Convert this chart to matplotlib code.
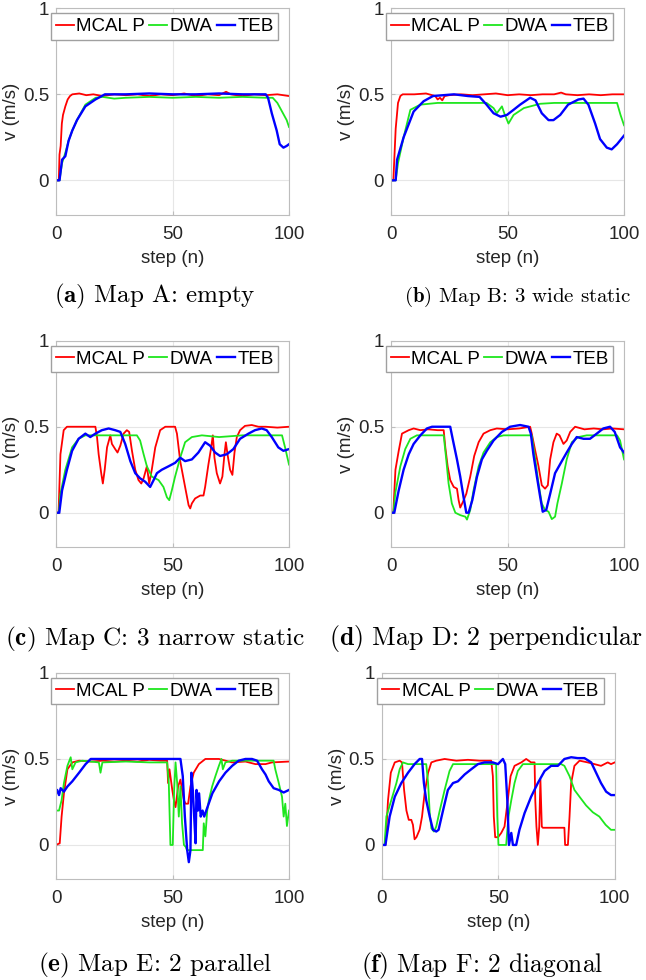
import matplotlib.pyplot as plt

plt.rcParams["font.family"] = ["Liberation Sans", "DejaVu Sans"]
plt.rcParams["mathtext.fontset"] = "cm"

# (step, v) readings for each map
A_MCAL = [(0, 0), (1.2, 0), (1.5, 0.15), (2, 0.2), (2.5, 0.33), (3, 0.38), (4, 0.43), (5, 0.47), (6, 0.49),
          (7, 0.5), (10, 0.505), (13, 0.495), (16, 0.5), (20, 0.49), (25, 0.5), (30, 0.495), (35, 0.5),
          (40, 0.49), (45, 0.5), (50, 0.495), (55, 0.505), (60, 0.49), (65, 0.5), (70, 0.495), (73, 0.515),
          (75, 0.5), (80, 0.49), (85, 0.5), (90, 0.495), (95, 0.5), (100, 0.49)]
A_DWA = [(0, 0), (1.5, 0), (2.6, 0.1), (4, 0.16), (5.4, 0.23), (7, 0.29), (9, 0.35), (12.6, 0.44), (17, 0.48),
         (20, 0.485), (25, 0.475), (30, 0.48), (40, 0.485), (50, 0.48), (60, 0.485), (70, 0.48), (80, 0.485),
         (90, 0.48), (93, 0.48), (95, 0.45), (97, 0.4), (99, 0.35), (100, 0.31)]
A_TEB = [(0, 0), (1.5, 0), (2.6, 0.12), (4, 0.14), (5.4, 0.23), (7, 0.29), (9, 0.35), (12.6, 0.43), (16.9, 0.47),
         (21, 0.5), (30, 0.5), (40, 0.505), (50, 0.5), (60, 0.5), (70, 0.505), (80, 0.5), (90, 0.5), (91, 0.48),
         (92.6, 0.39), (94.7, 0.29), (96, 0.21), (97.6, 0.19), (99, 0.2), (100, 0.21)]

B_MCAL = [(0, 0), (1, 0), (1.5, 0.15), (2, 0.3), (3, 0.45), (4, 0.49), (5, 0.5), (10, 0.5), (15, 0.505),
          (19, 0.49), (20, 0.47), (21, 0.48), (22, 0.465), (23, 0.49), (25, 0.495), (30, 0.5), (35, 0.495),
          (40, 0.5), (45, 0.505), (50, 0.495), (55, 0.5), (60, 0.495), (65, 0.5), (70, 0.5), (73, 0.51),
          (75, 0.5), (80, 0.495), (85, 0.5), (90, 0.495), (95, 0.5), (100, 0.5)]
B_DWA = [(0, 0), (2, 0), (3, 0.1), (5.4, 0.25), (8.3, 0.41), (12.6, 0.44), (20, 0.45), (30, 0.45), (41, 0.45),
         (44, 0.42), (45.4, 0.39), (47.6, 0.43), (48.6, 0.39), (50.4, 0.33), (52.6, 0.38), (57, 0.42),
         (64, 0.445), (70, 0.45), (80, 0.45), (90, 0.45), (97, 0.45), (98.5, 0.38), (100, 0.32)]
B_TEB = [(0, 0), (2, 0), (2.6, 0.12), (5.4, 0.25), (9.7, 0.4), (14, 0.46), (18, 0.49), (27, 0.5), (33, 0.49),
         (38, 0.485), (41, 0.44), (44, 0.39), (47, 0.37), (49.7, 0.38), (52.6, 0.41), (55.4, 0.44), (59.7, 0.48),
         (62, 0.465), (64.7, 0.39), (67.6, 0.35), (69.7, 0.35), (72.6, 0.38), (76, 0.44), (80.4, 0.47),
         (82.6, 0.475), (84.7, 0.44), (87.6, 0.33), (89.7, 0.24), (92.6, 0.19), (94.7, 0.18), (97, 0.21),
         (100, 0.26)]

C_MCAL = [(0, 0), (1.1, 0), (1.9, 0.34), (3.3, 0.48), (4.7, 0.5), (10, 0.5), (16.9, 0.5), (17.6, 0.44),
          (18.3, 0.34), (19.4, 0.23), (20.1, 0.17), (20.9, 0.25), (21.9, 0.38), (23.3, 0.45), (24, 0.4),
          (25.4, 0.37), (26.4, 0.35), (27.6, 0.39), (29, 0.46), (30.4, 0.48), (31.4, 0.47), (32.6, 0.36),
          (34, 0.25), (35.4, 0.19), (36.6, 0.17), (37.6, 0.2), (39, 0.27), (40, 0.17), (41.1, 0.25), (42.6, 0.38),
          (44.7, 0.48), (46.9, 0.5), (51.1, 0.5), (51.9, 0.46), (53.3, 0.3), (55.4, 0.15), (56.9, 0.044),
          (57.6, 0.025), (58.3, 0.054), (59.7, 0.083), (61.9, 0.1), (63.3, 0.1), (64, 0.15), (65.4, 0.28),
          (66.6, 0.38), (67.3, 0.45), (68, 0.32), (69, 0.23), (70.4, 0.17), (71.4, 0.21), (72.3, 0.34),
          (72.9, 0.41), (73.6, 0.34), (74.7, 0.25), (75.7, 0.22), (76.6, 0.35), (77.6, 0.44), (79, 0.48),
          (81.1, 0.505), (84, 0.51), (86.9, 0.5), (90, 0.5), (95, 0.495), (100, 0.5)]
C_DWA = [(0, 0), (1.2, 0), (1.9, 0.11), (4, 0.25), (6.9, 0.38), (9.7, 0.43), (12.6, 0.45), (20, 0.45), (30, 0.45),
         (34.7, 0.45), (36.1, 0.42), (37.6, 0.34), (39, 0.27), (41.1, 0.21), (44, 0.19), (46.1, 0.15),
         (47.6, 0.09), (48.6, 0.073), (49.7, 0.13), (51.1, 0.21), (53.3, 0.32), (55.4, 0.41), (58.3, 0.44),
         (62.6, 0.45), (70, 0.44), (80, 0.45), (90, 0.45), (97, 0.45), (98.3, 0.38), (100, 0.28)]
C_TEB = [(0, 0), (1.4, 0), (2.6, 0.13), (4.7, 0.25), (6.9, 0.36), (9.7, 0.43), (12.6, 0.46), (14.7, 0.44),
         (16.9, 0.46), (19.7, 0.48), (22.6, 0.49), (25.4, 0.48), (27.6, 0.47), (29.7, 0.4), (31.9, 0.3),
         (34, 0.23), (36.1, 0.2), (38.3, 0.18), (40.4, 0.15), (41.9, 0.19), (43.3, 0.23), (45.4, 0.25),
         (48.3, 0.27), (51.1, 0.29), (53.3, 0.32), (55.4, 0.3), (58.3, 0.31), (61.1, 0.35), (64, 0.41),
         (66.1, 0.39), (68.3, 0.35), (70.4, 0.33), (73.3, 0.34), (76.1, 0.37), (79, 0.43), (82.6, 0.46),
         (85.4, 0.48), (88.3, 0.49), (90.4, 0.48), (92.6, 0.44), (95.4, 0.38), (97.6, 0.36), (100, 0.37)]

D_MCAL = [(0, 0), (1, 0), (1.3, 0.09), (1.9, 0.25), (3.3, 0.36), (4.7, 0.46), (7.6, 0.48), (9.7, 0.49),
          (12.6, 0.48), (16, 0.485), (20, 0.48), (22.6, 0.48), (23.3, 0.38), (24.3, 0.27), (25.4, 0.19),
          (26.9, 0.15), (28.3, 0.14), (29, 0.074), (29.7, 0.03), (30.9, 0.064), (32.3, 0.11), (34, 0.21),
          (35.7, 0.33), (37.6, 0.41), (39.7, 0.46), (42.6, 0.48), (45.4, 0.49), (50, 0.485), (55, 0.49),
          (59.7, 0.5), (60.4, 0.46), (61.9, 0.36), (63.3, 0.27), (64.7, 0.16), (66.1, 0.14), (67.3, 0.16),
          (68.3, 0.31), (69.7, 0.41), (71.1, 0.46), (72.3, 0.45), (74, 0.4), (75.4, 0.42), (76.9, 0.47),
          (79, 0.5), (83, 0.485), (87, 0.49), (91, 0.485), (95, 0.49), (100, 0.485)]
D_DWA = [(0, 0), (1, 0), (1.9, 0.12), (4, 0.27), (6.1, 0.37), (8.3, 0.43), (11.1, 0.45), (22.6, 0.45),
         (23.7, 0.31), (24.7, 0.17), (26.1, 0.054), (27.6, 0), (29.7, -0.014), (31.9, -0.023), (32.6, -0.04),
         (34, 0.016), (35.4, 0.13), (37.6, 0.27), (39.7, 0.35), (42.6, 0.41), (45.4, 0.44), (48.3, 0.45),
         (60.4, 0.45), (61.9, 0.31), (63.3, 0.17), (64.7, 0.054), (66.1, 0.016), (67.6, 0.006), (69, -0.037),
         (70.4, -0.023), (71.4, 0.054), (73.3, 0.17), (75.4, 0.31), (77.6, 0.41), (80.4, 0.44), (84, 0.45),
         (97, 0.45), (98.3, 0.42), (100, 0.31)]
D_TEB = [(0, 0), (1.4, 0), (3.3, 0.13), (5.4, 0.25), (7.6, 0.34), (9.7, 0.4), (12.6, 0.45), (15.4, 0.49),
         (17.6, 0.5), (25.4, 0.5), (26.6, 0.42), (28.3, 0.31), (29.7, 0.21), (31.1, 0.093), (32.3, 0), (33.3, 0),
         (34.9, 0.074), (36.9, 0.21), (39, 0.31), (41.1, 0.36), (44, 0.42), (47.6, 0.47), (51.1, 0.5),
         (55.4, 0.51), (59, 0.5), (60, 0.46), (61.1, 0.34), (62.6, 0.21), (64, 0.093), (65.1, 0.006),
         (66.6, 0.016), (68.3, 0.11), (70.4, 0.23), (73.3, 0.3), (75.4, 0.35), (77.6, 0.4), (79.7, 0.44),
         (82.6, 0.43), (85.4, 0.43), (88.3, 0.46), (91.1, 0.49), (94, 0.5), (96, 0.47), (98.3, 0.38), (100, 0.35)]

E_MCAL = [(0, 0), (1.6, 0.01), (2.4, 0.165), (3.4, 0.3), (4.9, 0.44), (7, 0.48), (9.9, 0.49), (15, 0.485),
          (20, 0.49), (25, 0.485), (30, 0.49), (35, 0.485), (40, 0.495), (45, 0.49), (47.7, 0.49), (48.1, 0.36),
          (48.7, 0.44), (49.9, 0.32), (50.6, 0.26), (51.3, 0.22), (52.4, 0.34), (53.4, 0.38), (54.1, 0.32),
          (54.9, 0.26), (55.6, 0.24), (56.7, 0.24), (57.7, 0.34), (59.1, 0.42), (61.3, 0.47), (64.1, 0.5),
          (69.9, 0.5), (75.6, 0.48), (81.3, 0.485), (85.6, 0.47), (89.9, 0.47), (92.7, 0.48), (100, 0.485)]
E_DWA = [(0, 0.2), (1.3, 0.2), (2.4, 0.26), (3.4, 0.36), (4.9, 0.46), (6.3, 0.51), (7, 0.44), (8.4, 0.48),
         (11.3, 0.49), (18.4, 0.48), (19.1, 0.42), (19.9, 0.48), (30, 0.485), (40, 0.48), (47.7, 0.48),
         (48.4, 0.36), (49.1, 0), (50.1, 0), (50.7, 0.32), (51.3, 0.48), (52, 0.36), (52.7, 0.165), (53.4, 0.34),
         (54.1, 0.126), (54.9, 0), (55.6, -0.01), (56.2, -0.03), (63, -0.03), (63.4, 0.126), (64.1, 0.05),
         (64.9, 0.2), (65.6, 0.26), (67, 0.34), (68.4, 0.4), (69.9, 0.46), (71, 0.5), (71.6, 0.44), (72.7, 0.48),
         (75.6, 0.49), (93.4, 0.49), (94.1, 0.44), (95.6, 0.36), (97, 0.28), (97.7, 0.165), (98.4, 0.24),
         (99.1, 0.11), (100, 0.2)]
E_TEB = [(0, 0.3), (0.5, 0.32), (1.3, 0.29), (2, 0.33), (3.4, 0.31), (4.9, 0.34), (7, 0.37), (9.9, 0.42),
         (12.7, 0.47), (14.9, 0.5), (16.3, 0.5), (53.4, 0.5), (54.4, 0.4), (55.3, 0.165), (56.3, -0.03),
         (57, -0.1), (57.7, -0.03), (58.1, 0.42), (58.7, 0.32), (59.3, 0.165), (59.9, 0.01), (60.3, 0.32),
         (60.9, 0.2), (61.4, 0.3), (62.1, 0.165), (62.9, 0.2), (63.6, 0.165), (65, 0.22), (67.1, 0.3), (70, 0.37),
         (72.7, 0.42), (75.6, 0.46), (78.4, 0.49), (81.3, 0.5), (84.1, 0.5), (86.3, 0.49), (88.4, 0.44),
         (89.9, 0.41), (91.3, 0.37), (93.4, 0.33), (95.6, 0.32), (97.7, 0.305), (100, 0.32)]

F_MCAL = [(0, 0), (1.6, 0), (2.7, 0.26), (3.9, 0.42), (5.6, 0.48), (7.7, 0.49), (8.7, 0.48), (9.6, 0.32),
          (10.6, 0.2), (11.6, 0.146), (12.7, 0.146), (13.4, 0.117), (14.1, 0.033), (14.9, 0.045), (16.3, 0.09),
          (17.3, 0.165), (18.4, 0.3), (19.9, 0.42), (21.3, 0.48), (23.4, 0.49), (27, 0.5), (32, 0.49),
          (37, 0.495), (42, 0.49), (47, 0.49), (47.7, 0.4), (48.1, 0.165), (48.7, 0.045), (49.9, 0.045),
          (51.3, 0.07), (52.7, 0.107), (54.1, 0.26), (55.3, 0.4), (57, 0.46), (59.9, 0.48), (62, 0.5),
          (64.1, 0.48), (65.6, 0.48), (65.9, 0.26), (66.4, 0.107), (67, 0), (67.6, 0.107), (68.1, 0.38),
          (68.7, 0.107), (69.1, 0.1), (78.4, 0.1), (78.7, 0), (79.9, 0), (80.6, 0.165), (81.3, 0.36),
          (82.7, 0.46), (84.9, 0.49), (88.4, 0.48), (91.3, 0.47), (94.1, 0.46), (97, 0.48), (98.4, 0.47),
          (100, 0.48)]
F_DWA = [(0, 0), (1.2, 0), (2, 0.165), (4.1, 0.26), (6.3, 0.36), (7.7, 0.44), (9.1, 0.48), (11.3, 0.47),
         (19.1, 0.47), (19.9, 0.36), (20.6, 0.185), (21.3, 0.097), (22.4, 0.078), (23.4, 0.107), (24.9, 0.2),
         (27, 0.32), (29.1, 0.43), (30.6, 0.47), (35.6, 0.47), (49.1, 0.47), (49.6, 0.165), (50.1, 0),
         (53.4, 0), (54.4, 0.165), (55.6, 0.26), (57, 0.36), (58.4, 0.43), (60.6, 0.47), (77, 0.47),
         (78.4, 0.46), (80.6, 0.4), (82.7, 0.32), (84.9, 0.28), (87.7, 0.23), (90.6, 0.19), (93.4, 0.165),
         (96.1, 0.117), (98.4, 0.088), (100, 0.088)]
F_TEB = [(0, 0), (1.6, 0), (3.4, 0.165), (5.6, 0.28), (8.4, 0.36), (11.3, 0.42), (14.1, 0.47), (16.3, 0.5),
         (17.3, 0.5), (18.1, 0.36), (19.1, 0.26), (20.6, 0.165), (22, 0.088), (23.4, 0.078), (24.4, 0.088),
         (26.3, 0.2), (28.4, 0.32), (30.6, 0.36), (32.7, 0.37), (35.6, 0.41), (38.4, 0.44), (41.3, 0.47),
         (44.1, 0.48), (47.7, 0.48), (49.9, 0.47), (52, 0.5), (53, 0.47), (53.9, 0.26), (54.6, 0), (55.6, 0.07),
         (56.3, 0), (57.7, 0), (59.1, 0.088), (61.3, 0.185), (64.1, 0.28), (67, 0.36), (69.9, 0.43),
         (72.7, 0.46), (75.6, 0.46), (78.4, 0.5), (81.3, 0.51), (84.1, 0.505), (87, 0.505), (89.9, 0.48),
         (92, 0.42), (94.1, 0.36), (96.3, 0.31), (98.4, 0.29), (100, 0.29)]

SERIES_NAMES = ["MCAL P", "DWA", "TEB"]
SERIES_COLORS = ["#ff0000", "#1ee61e", "#0000ff"]
SERIES_WIDTHS = [1.3, 1.3, 1.7]

PANELS = [(A_MCAL, A_DWA, A_TEB), (B_MCAL, B_DWA, B_TEB), (C_MCAL, C_DWA, C_TEB),
          (D_MCAL, D_DWA, D_TEB), (E_MCAL, E_DWA, E_TEB), (F_MCAL, F_DWA, F_TEB)]
CAPTIONS = [(r"$\mathbf{(a)}$", "Map A: empty"), (r"$\mathbf{(b)}$", "Map B: 3 wide static"),
            (r"$\mathbf{(c)}$", "Map C: 3 narrow static"), (r"$\mathbf{(d)}$", "Map D: 2 perpendicular"),
            (r"$\mathbf{(e)}$", "Map E: 2 parallel"), (r"$\mathbf{(f)}$", "Map F: 2 diagonal")]

X_TICKS = [0, 50, 100]
Y_TICKS = [0, 0.5, 1]
Y_TICK_LABELS = ["0", "0.5", "1"]

# axes boxes [left, bottom, width, height] in figure fraction
W, H = 0.3607, 0.2106
AX_POS = [[0.0867, 0.7809, W, H], [0.6053, 0.7809, W, H],
          [0.0867, 0.4417, W, H], [0.6053, 0.4417, W, H],
          [0.0867, 0.1027, W, H], [0.5909, 0.1027, W, H]]
CAP_POS = [(0.240, 0.697), (0.802, 0.697), (0.240, 0.348), (0.752, 0.348), (0.240, 0.0153), (0.746, 0.0153)]
CAP_SIZE = [18.0, 15.0, 18.2, 18.6, 18.2, 18.3]

fig = plt.figure(figsize=(6.46, 9.80), dpi=100)

for i, series in enumerate(PANELS):
    ax = fig.add_axes(AX_POS[i])
    for data, name, col, lw in zip(series, SERIES_NAMES, SERIES_COLORS, SERIES_WIDTHS):
        xs = [p[0] for p in data]
        vs = [p[1] for p in data]
        ax.plot(xs, vs, color=col, lw=lw, label=name)

    ax.set_xlim(0, 100)
    ax.set_ylim(-0.2, 1)
    ax.set_xticks(X_TICKS)
    ax.set_yticks(Y_TICKS)
    ax.set_yticklabels(Y_TICK_LABELS)
    ax.grid(True, color="#e6e6e6", lw=0.8)
    ax.set_axisbelow(True)
    for sp in ax.spines.values():
        sp.set_color("#bdbdbd")
        sp.set_linewidth(0.8)
    ax.tick_params(direction="in", length=3, color="#bdbdbd", labelcolor="#262626", labelsize=13.5)
    ax.tick_params(axis="x", pad=8)
    ax.tick_params(axis="y", pad=5)
    ax.set_xlabel("step (n)", fontsize=13.5, color="#262626", labelpad=5)
    ax.set_ylabel("v (m/s)", fontsize=13.5, color="#262626", labelpad=2)

    ax.legend(ncol=3, loc="upper left", bbox_to_anchor=(-0.021, 0.976), borderaxespad=0,
              handlelength=0.95, handletextpad=0.12, columnspacing=0.25, borderpad=0.25,
              fancybox=False, edgecolor="#a0a0a0", framealpha=1, fontsize=13.5)

    # caption under each panel, bold tag + serif text
    tag, txt = CAPTIONS[i]
    fig.text(CAP_POS[i][0], CAP_POS[i][1], tag + " " + txt, fontsize=CAP_SIZE[i], family="cmr10",
             ha="center", va="center")

fig.savefig("out.png", dpi=100)
